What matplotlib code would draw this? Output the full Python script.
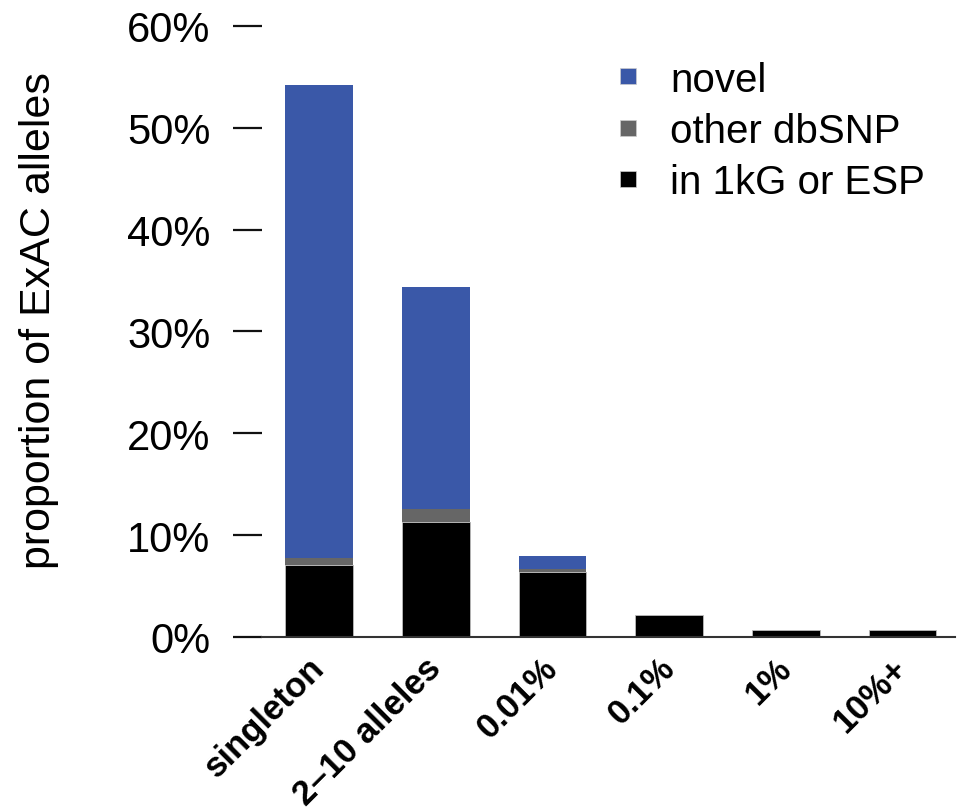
import numpy as np
import matplotlib
matplotlib.use("Agg")
import matplotlib.pyplot as plt
from matplotlib.lines import Line2D
from matplotlib.transforms import ScaledTranslation

plt.rcParams["font.family"] = ["Liberation Sans", "DejaVu Sans"]

# data (percent of ExAC alleles)
categories = ["singleton", "2\u201310 alleles", "0.01%", "0.1%", "1%", "10%+"]
in_1kg_esp = [7.1, 11.3, 6.35, 2.13, 0.66, 0.66]
other_dbsnp = [0.65, 1.25, 0.33, 0.0, 0.0, 0.0]
novel = [46.45, 21.85, 1.28, 0.0, 0.0, 0.0]
yticks = [0, 10, 20, 30, 40, 50, 60]

col_novel = "#3a58a8"
col_dbsnp = "#666666"
col_known = "#000000"

fig = plt.figure(figsize=(9.59, 8.12), dpi=100)
ax = fig.add_axes([0.2732, 0.2143, 0.7226, 0.7525])

x = np.arange(len(categories))
w = 0.58
known = np.array(in_1kg_esp)
dbsnp = np.array(other_dbsnp)
nov = np.array(novel)
ax.bar(x, known, w, color=col_known, edgecolor="#bbbbbb", linewidth=0.6, zorder=2)
ax.bar(x, dbsnp, w, bottom=known, color=col_dbsnp, linewidth=0, zorder=2)
ax.bar(x, nov, w, bottom=known + dbsnp, color=col_novel, linewidth=0, zorder=2)

ax.set_xlim(-0.49, 5.45)
ax.set_ylim(0, 60)

for s in ["top", "right", "left"]:
    ax.spines[s].set_visible(False)
ax.spines["bottom"].set_linewidth(1.5)
ax.spines["bottom"].set_color("#333333")

ax.set_yticks(yticks)
ax.set_yticklabels([f"{v}%" for v in yticks], fontsize=30)
ax.tick_params(axis="y", length=21, width=1.6, pad=16, color="#111111")

ax.set_xticks(x)
ax.set_xticklabels(categories, rotation=45, ha="right", va="top",
                   fontsize=25, fontweight="bold")
ax.tick_params(axis="x", length=0, pad=10)
offset = ScaledTranslation(12 / 100, 0, fig.dpi_scale_trans)
for lab in ax.get_xticklabels():
    lab.set_transform(lab.get_transform() + offset)

ax.set_ylabel("proportion of ExAC alleles", fontsize=31)
ax.yaxis.set_label_coords(-0.293, 0.52)

handles = [Line2D([], [], marker="s", linestyle="none", markersize=12,
                  markerfacecolor=c, markeredgecolor="#cccccc", markeredgewidth=0.5)
           for c in [col_novel, col_dbsnp, col_known]]
fig.legend(handles, ["novel", "other dbSNP", "in 1kG or ESP"],
           loc="upper left", bbox_to_anchor=(0.625, 0.944),
           frameon=False, fontsize=29, handlelength=0.6,
           handletextpad=0.75, labelspacing=0.33, borderaxespad=0)

# axis title sits mostly below the bottom edge, as in the source figure
fig.text(0.503, 0.0, "allele frequency", fontsize=30, ha="center", va="top",
         color="#444444")

fig.savefig("out.png", dpi=100)
